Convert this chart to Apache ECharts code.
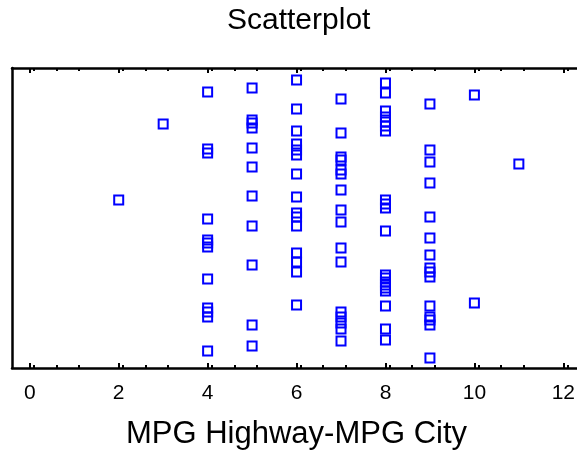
<!DOCTYPE html>
<html><head><meta charset="utf-8">
<script src="https://cdn.jsdelivr.net/npm/echarts@6/dist/echarts.min.js"></script>
<style>html,body{margin:0;padding:0;background:#fff}#c{width:577px;height:454px}</style>
</head><body><div id="c"></div>
<script>
// x values (MPG Highway - MPG City) and vertical jitter (pixels from top of plot, arbitrary units 0-300)
const xVals = [
  3, 2,
  4,4,4,4,4,4,4,4,4,4,4,4,
  5,5,5,5,5,5,5,5,5,5,5,
  6,6,6,6,6,6,6,6,6,6,6,6,6,6,6,
  7,7,7,7,7,7,7,7,7,7,7,7,7,7,7,7,
  8,8,8,8,8,8,8,8,8,8,8,8,8,8,8,8,8,8,8,8,
  9,9,9,9,9,9,9,9,9,9,9,9,9,9,9,
  10,10, 11
];
const jitter = [
  56, 132,
  24,81,85,151,172,175,179,211,240,244,249,283,
  20,52,55,60,80,99,128,158,197,257,278,
  12,41,63,76,82,87,106,129,145,149,158,185,194,204,237,
  31,65,89,92,102,106,122,142,154,180,194,244,249,255,261,273,
  15,25,43,49,54,58,63,132,136,140,163,207,210,214,217,220,223,238,261,272,
  36,82,94,115,149,170,187,200,204,209,238,249,252,257,290,
  27,235, 96
];
const xTicks = [0, 2, 4, 6, 8, 10, 12];

const points = xVals.map((x, i) => [x, jitter[i]]);
const chart = echarts.init(document.getElementById('c'), null, {renderer: 'canvas'});
const font = 'Liberation Sans, Arial, sans-serif';
chart.setOption({
  animation: false,
  backgroundColor: '#ffffff',
  title: {
    text: 'Scatterplot', left: 222, top: 1,
    textStyle: {fontFamily: font, fontSize: 30, fontWeight: 'normal', color: '#000'}
  },
  grid: {left: 12, top: 68, width: 578, height: 300, containLabel: false, outerBoundsMode: 'none'},
  xAxis: [{
    type: 'value', min: -0.4, max: 12.6, interval: 2, position: 'bottom',
    axisLine: {show: true, onZero: false, lineStyle: {color: '#000', width: 2.5}},
    axisTick: {show: true, inside: true, length: 5, lineStyle: {color: '#000', width: 2},
      customValues: xTicks},
    minorTick: {show: true, splitNumber: 4, length: 3, lineStyle: {color: '#000', width: 2}},
    axisLabel: {show: true, color: '#000', fontSize: 21, fontFamily: font, margin: 15,
      customValues: xTicks},
    splitLine: {show: false},
    name: 'MPG Highway-MPG City', nameLocation: 'middle', nameGap: 51,
    nameTextStyle: {fontSize: 31, fontFamily: font, color: '#000', padding: [0, 9, 0, 0]}
  }, {
    type: 'value', min: -0.4, max: 12.6, interval: 2, position: 'top',
    axisLine: {show: true, onZero: false, lineStyle: {color: '#000', width: 2.5}},
    axisTick: {show: true, inside: true, length: 5, lineStyle: {color: '#000', width: 2},
      customValues: xTicks},
    minorTick: {show: true, splitNumber: 4, length: 3, lineStyle: {color: '#000', width: 2}},
    axisLabel: {show: false},
    splitLine: {show: false}
  }],
  yAxis: {
    type: 'value', min: 0, max: 300, inverse: true,
    axisLine: {show: true, onZero: false, lineStyle: {color: '#000', width: 2.5}},
    axisTick: {show: false}, axisLabel: {show: false}, splitLine: {show: false}
  },
  series: [{
    type: 'scatter', xAxisIndex: 0, data: points,
    symbol: 'rect', symbolSize: 9,
    itemStyle: {color: 'rgba(0,0,0,0)', borderColor: '#0000ff', borderWidth: 2, opacity: 1}
  }]
});
</script></body></html>
